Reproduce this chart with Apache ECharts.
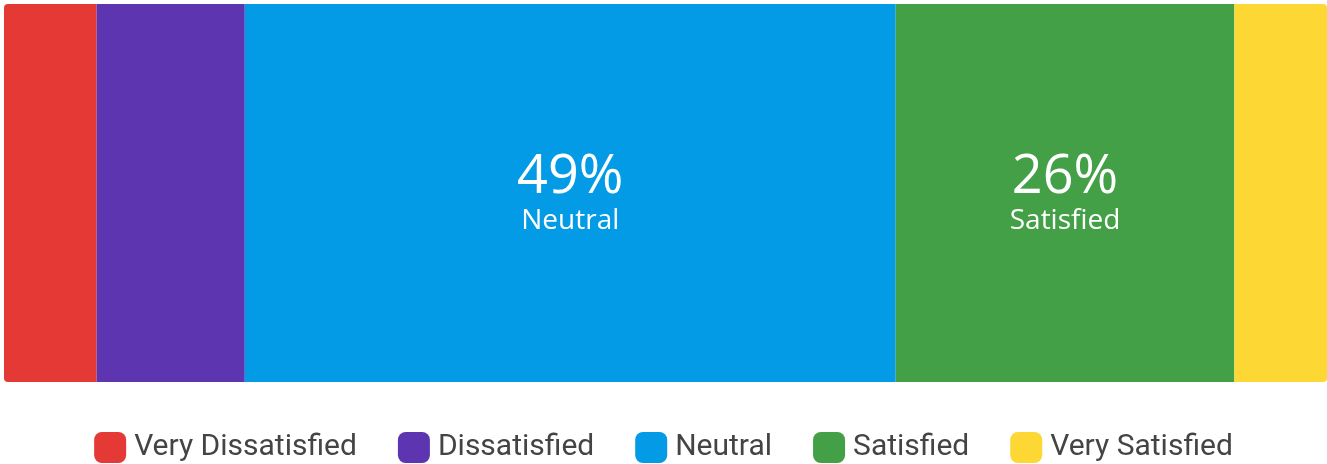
<!DOCTYPE html>
<html>
<head>
<meta charset="utf-8">
<script src="https://cdn.jsdelivr.net/npm/echarts@6/dist/echarts.min.js"></script>
<style>
html,body{margin:0;padding:0;background:#fff;}
#chart{width:1327px;height:464px;}
</style>
</head>
<body>
<div id="chart"></div>
<script>
const categories = ['Very Dissatisfied', 'Dissatisfied', 'Neutral', 'Satisfied', 'Very Satisfied'];
const values = [7.0, 11.2, 49.2, 25.6, 7.0];
const colors = ['#E53935', '#5E35B1', '#039BE5', '#43A047', '#FDD835'];
const labelThreshold = 20;

const chart = echarts.init(document.getElementById('chart'));
const series = categories.map((name, i) => ({
  name: name,
  type: 'bar',
  stack: 'total',
  barWidth: '100%',
  data: [values[i]],
  itemStyle: {
    color: colors[i],
    borderRadius: i === 0 ? [4, 0, 0, 4] : (i === categories.length - 1 ? [0, 4, 4, 0] : 0)
  },
  label: {
    show: values[i] >= labelThreshold,
    position: 'inside',
    formatter: () => '{a|' + Math.round(values[i]) + '%}\n{b|' + name + '}',
    rich: {
      a: { fontSize: 54, color: '#fff', fontFamily: 'Open Sans', lineHeight: 56 },
      b: { fontSize: 28, color: '#fff', fontFamily: 'Open Sans', lineHeight: 30 }
    }
  },
  emphasis: { disabled: true }
}));

chart.setOption({
  animation: false,
  grid: { left: 4, right: 0, top: 4, bottom: 82 },
  xAxis: { type: 'value', min: 0, max: 100, show: false },
  yAxis: { type: 'category', data: ['Satisfaction'], show: false },
  legend: {
    top: 432,
    left: 'center',
    padding: 0,
    icon: 'roundRect',
    itemWidth: 32,
    itemHeight: 31,
    itemGap: 41,
    textStyle: { fontSize: 30, color: '#444', fontFamily: 'Roboto', padding: [0, 0, 0, 3] },
    data: categories
  },
  series: series
});
</script>
</body>
</html>
